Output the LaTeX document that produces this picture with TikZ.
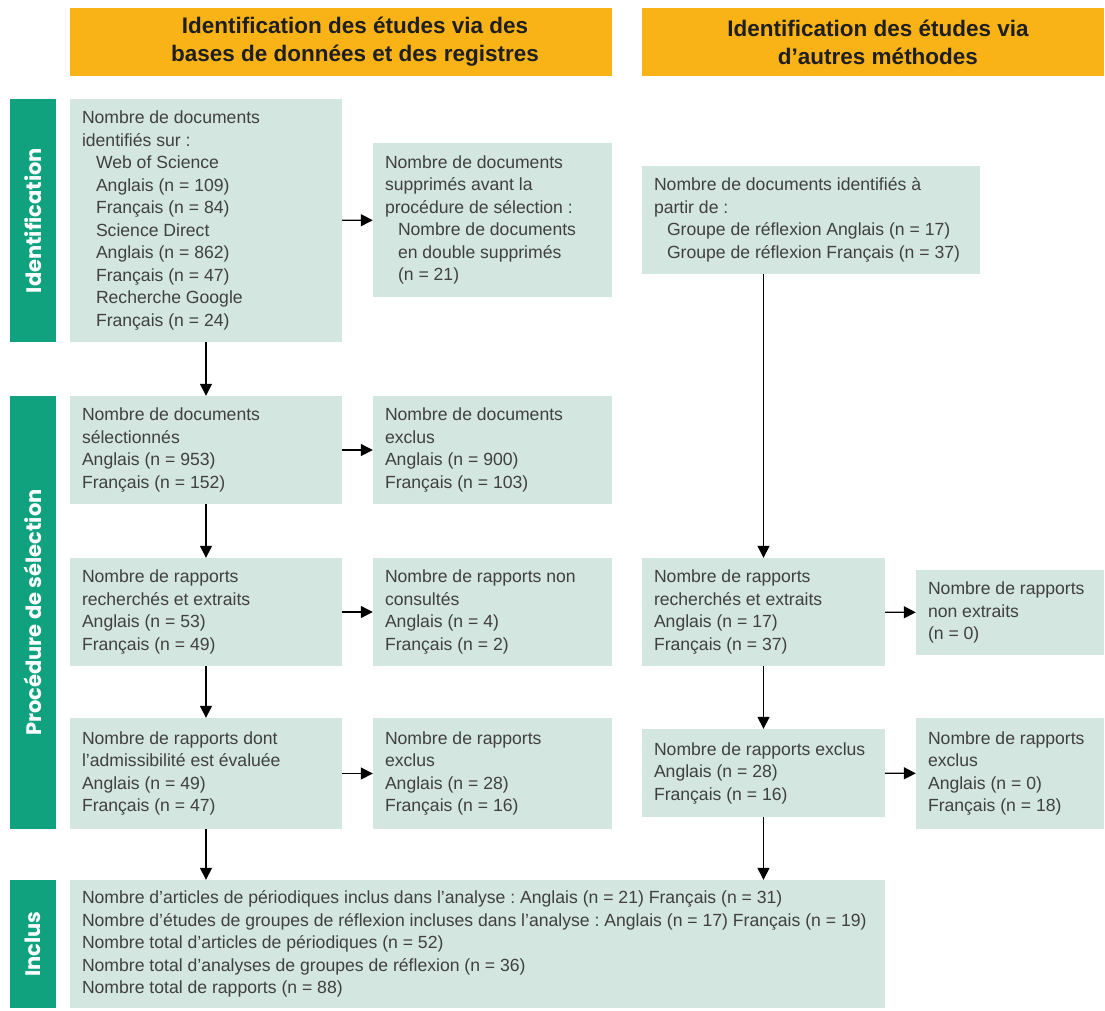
\documentclass[tikz,border=0pt]{standalone}
\usepackage{fontspec}
\setmainfont{Liberation Sans}
\newfontfamily\sidefont{Poppins}
\usetikzlibrary{arrows.meta}
\frenchspacing

\definecolor{orangeentete}{HTML}{F9B317}
\definecolor{vertbande}{HTML}{10A27F}
\definecolor{vertboite}{HTML}{D3E6DF}

\tikzset{
  boite/.style={fill=vertboite, inner xsep=12pt, inner ysep=0pt, align=flush left,
    text=black!75, font=\fontsize{17.6}{22.5}\selectfont},
  entete/.style={fill=orangeentete, inner sep=0pt, align=center, text=black!88,
    font=\fontsize{22.5}{28}\selectfont\bfseries},
  bande/.style={fill=vertbande, inner sep=0pt, rotate=90, text=white,
    font=\sidefont\fontsize{21}{24}\selectfont\bfseries},
  fleche/.style={line width=1.4pt, -{Triangle[length=12pt,width=12pt]}}
}

\begin{document}
\begin{tikzpicture}[x=1pt, y=-1pt]
  \useasboundingbox (0,0) rectangle (1105,1010);

  % En-tetes
  \node[entete, minimum width=542pt, minimum height=68pt] (h1) at (341,42)
    {\hspace*{28pt}Identification des études via des\\\hspace*{28pt}bases de données et des registres};
  \node[entete, minimum width=462pt, minimum height=68pt] (h2) at (873,42)
    {\hspace*{10pt}Identification des études via\\\hspace*{10pt}d’autres méthodes};

  % Bandes laterales
  \node[bande, minimum width=243pt, minimum height=46pt] (s1) at (33,220.5) {Identification};
  \node[bande, minimum width=433pt, minimum height=46pt] (s2) at (33,612.5) {Procédure de sélection};
  \node[bande, minimum width=128pt, minimum height=46pt] (s3) at (33,944) {Inclus};

  % Boites
  \node[boite, text width=248pt, minimum height=243pt] (docs) at (206,220.5)
    {Nombre de documents\\identifiés sur :\\
     \hspace*{14pt}Web of Science\\\hspace*{14pt}Anglais (n = 109)\\\hspace*{14pt}Français (n = 84)\\
     \hspace*{14pt}Science Direct\\\hspace*{14pt}Anglais (n = 862)\\\hspace*{14pt}Français (n = 47)\\
     \hspace*{14pt}Recherche Google\\\hspace*{14pt}Français (n = 24)};
  \node[boite, text width=215pt, minimum height=154pt] (suppr) at (492.5,220)
    {Nombre de documents\\supprimés avant la\\procédure de sélection :\\
     \hspace*{13pt}Nombre de documents\\\hspace*{13pt}en double supprimés\\\hspace*{13pt}(n = 21)};
  \node[boite, text width=314pt, minimum height=108pt] (autres) at (811,220)
    {Nombre de documents identifiés à\\partir de :\\
     \hspace*{13pt}Groupe de réflexion Anglais (n = 17)\\\hspace*{13pt}Groupe de réflexion Français (n = 37)};

  \node[boite, text width=248pt, minimum height=108pt] (selec) at (206,450)
    {Nombre de documents\\sélectionnés\\Anglais (n = 953)\\Français (n = 152)};
  \node[boite, text width=215pt, minimum height=108pt] (exclus) at (492.5,450)
    {Nombre de documents\\exclus\\Anglais (n = 900)\\Français (n = 103)};

  \node[boite, text width=248pt, minimum height=108pt] (rech) at (206,612)
    {Nombre de rapports\\recherchés et extraits\\Anglais (n = 53)\\Français (n = 49)};
  \node[boite, text width=215pt, minimum height=108pt] (noncons) at (492.5,612)
    {Nombre de rapports non\\consultés\\Anglais (n = 4)\\Français (n = 2)};
  \node[boite, text width=219pt, minimum height=108pt] (rechb) at (763.5,612)
    {Nombre de rapports\\recherchés et extraits\\Anglais (n = 17)\\Français (n = 37)};
  \node[boite, text width=164pt, minimum height=85pt] (nonextr) at (1010,612.5)
    {Nombre de rapports\\non extraits\\(n = 0)};

  \node[boite, text width=248pt, minimum height=111pt] (admis) at (206,773.5)
    {Nombre de rapports dont\\l’admissibilité est évaluée\\Anglais (n = 49)\\Français (n = 47)};
  \node[boite, text width=215pt, minimum height=111pt] (exclr) at (492.5,773.5)
    {Nombre de rapports\\exclus\\Anglais (n = 28)\\Français (n = 16)};
  \node[boite, text width=219pt, minimum height=88pt] (exclrb) at (763.5,773)
    {Nombre de rapports exclus\\Anglais (n = 28)\\Français (n = 16)};
  \node[boite, text width=164pt, minimum height=111pt] (exclrc) at (1010,773.5)
    {Nombre de rapports\\exclus\\Anglais (n = 0)\\Français (n = 18)};

  \node[boite, text width=791pt, minimum height=128pt] (inclus) at (477.5,944)
    {Nombre d’articles de périodiques inclus dans l’analyse : Anglais (n = 21) Français (n = 31)\\
     Nombre d’études de groupes de réflexion incluses dans l’analyse : Anglais (n = 17) Français (n = 19)\\
     Nombre total d’articles de périodiques (n = 52)\\
     Nombre total d’analyses de groupes de réflexion (n = 36)\\
     Nombre total de rapports (n = 88)};

  % Fleches
  \draw[fleche] (docs) -- (suppr);
  \draw[fleche] (docs) -- (selec);
  \draw[fleche] (selec) -- (exclus);
  \draw[fleche] (selec) -- (rech);
  \draw[fleche] (rech) -- (noncons);
  \draw[fleche] (rech) -- (admis);
  \draw[fleche] (admis) -- (exclr);
  \draw[fleche] (admis) -- (admis |- inclus.north);
  \draw[fleche] (autres.south -| rechb) -- (rechb);
  \draw[fleche] (rechb) -- (nonextr);
  \draw[fleche] (rechb) -- (exclrb);
  \draw[fleche] (exclrb) -- (exclrc);
  \draw[fleche] (exclrb) -- (exclrb |- inclus.north);
\end{tikzpicture}
\end{document}
